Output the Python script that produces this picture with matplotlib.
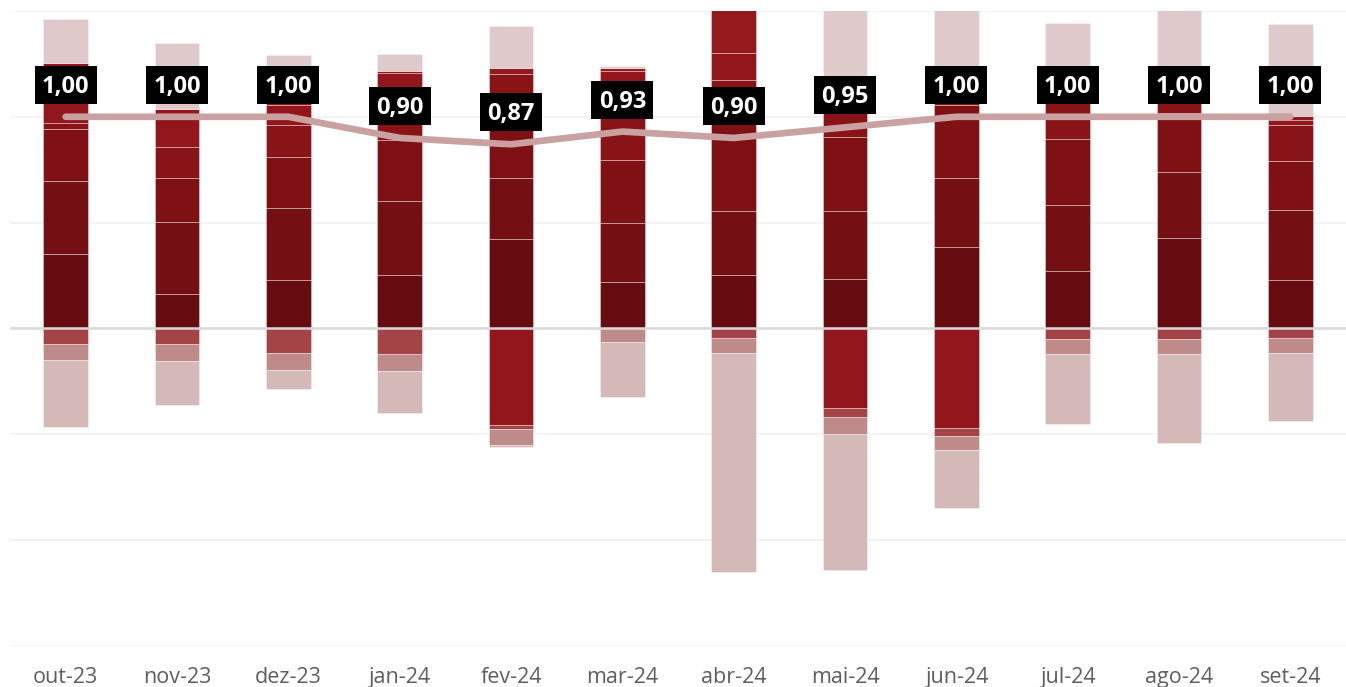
import matplotlib
matplotlib.use("Agg")
import matplotlib.pyplot as plt
import matplotlib.patches as mpatches
import matplotlib.transforms as mtransforms
import numpy as np

months = ["out-23", "nov-23", "dez-23", "jan-24", "fev-24", "mar-24",
          "abr-24", "mai-24", "jun-24", "jul-24", "ago-24", "set-24"]

# stacked components (same unit as the left gridlines)
r1 = [0.70, 0.32, 0.46, 0.50, 0.84, 0.44, 0.50, 0.47, 0.77, 0.54, 0.85, 0.46]
r2 = [0.69, 0.69, 0.68, 0.70, 0.58, 0.56, 0.61, 0.64, 0.65, 0.63, 0.63, 0.66]
r3 = [0.49, 0.41, 0.48, 0.58, 0.56, 0.59, 0.90, 0.70, 0.69, 0.62, 0.56, 0.46]
r4 = [0.06, 0.29, 0.30, 0.30, 0.42, 0.40, 0.34, 0.40, 0.10, 0.46, 0.10, 0.34]
r5 = [0.57, 0.36, 0.19, 0.33, -0.91, 0.44, 0.25, -0.75, -0.94, 0.00, 0.00, 0.05]
r6 = [0.00, 0.00, 0.20, 0.02, 0.06, 0.03, 0.60, 0.00, 0.00, 0.00, 0.00, 0.04]
p1 = [0.41, 0.63, 0.27, 0.16, 0.40, 0.02, 0.30, 1.00, 0.90, 0.64, 0.95, 0.87]
n1 = [-0.15, -0.15, -0.23, -0.24, -0.04, 0.00, -0.09, -0.09, -0.08, -0.10, -0.10, -0.09]
n2 = [-0.15, -0.16, -0.16, -0.16, -0.15, -0.13, -0.14, -0.16, -0.13, -0.14, -0.14, -0.14]
n3 = [-0.63, -0.41, -0.18, -0.40, -0.02, -0.52, -2.07, -1.28, -0.55, -0.66, -0.84, -0.65]

# ratio line (right scale)
ratio = [1.00, 1.00, 1.00, 0.90, 0.87, 0.93, 0.90, 0.95, 1.00, 1.00, 1.00, 1.00]

series = [
    (r1, "#660c10"),
    (r2, "#741013"),
    (r3, "#7f1115"),
    (r4, "#891418"),
    (r5, "#92161b"),
    (r6, "#951a1e"),
    (p1, "#dfc9ca"),
    (n1, "#a44446"),
    (n2, "#bf8b8a"),
    (n3, "#d5b8b8"),
]

fig = plt.figure(figsize=(13.46, 6.87), dpi=100)
ax = fig.add_axes([10 / 1346, 41.3 / 687, 1336 / 1346, 634.7 / 687])

x = np.arange(len(months))
pos_base = np.zeros(len(months))
neg_base = np.zeros(len(months))
for vals, color in series:
    v = np.array(vals)
    bottom = np.where(v >= 0, pos_base, neg_base)
    ax.bar(x, v, bottom=bottom, width=0.4, color=color,
           edgecolor=(1, 1, 1, 0.35), linewidth=0.7, zorder=2)
    pos_base += np.clip(v, 0, None)
    neg_base += np.clip(v, None, 0)

ax.set_xlim(-0.5, len(months) - 0.5)
ax.set_ylim(-3, 3)
ax.set_yticks(np.arange(-3, 4, 1))
ax.yaxis.grid(True, color="#f1f1f1", linewidth=1.2, zorder=0)
ax.set_axisbelow(True)
ax.axhline(0, color="#d9d9d9", linewidth=1.8, zorder=3)
ax.set_yticklabels([])
ax.tick_params(axis="y", length=0)
ax.set_xticks(x)
ax.set_xticklabels(months, fontsize=15.5, color="#605e5c", family="Open Sans")
ax.tick_params(axis="x", length=0, pad=15)
for s in ax.spines.values():
    s.set_visible(False)

ax2 = ax.twinx()
ax2.set_ylim(-1.5, 1.5)
ax2.plot(x, ratio, color="#c9a1a1", linewidth=4.8, solid_capstyle="round",
         solid_joinstyle="round", zorder=4)

# black label boxes, fixed pixel size, 32 px above each point
box_w, box_h, lift = 62, 38, 32
for xi, r in zip(x, ratio):
    px, py = ax2.transData.transform((xi, r))
    ax2.add_patch(mpatches.Rectangle((px - box_w / 2, py + lift - box_h / 2), box_w, box_h,
                                     transform=mtransforms.IdentityTransform(),
                                     facecolor="black", edgecolor="none", zorder=5,
                                     clip_on=False))
    ax2.annotate(f"{r:.2f}".replace(".", ","), (xi, r), xytext=(0, lift + 1),
                 textcoords="offset pixels", ha="center", va="center_baseline",
                 fontsize=17, fontweight="bold", color="white", family="Open Sans",
                 zorder=6)
ax2.set_yticks([])
for s in ax2.spines.values():
    s.set_visible(False)

fig.savefig("out.png", dpi=100)
